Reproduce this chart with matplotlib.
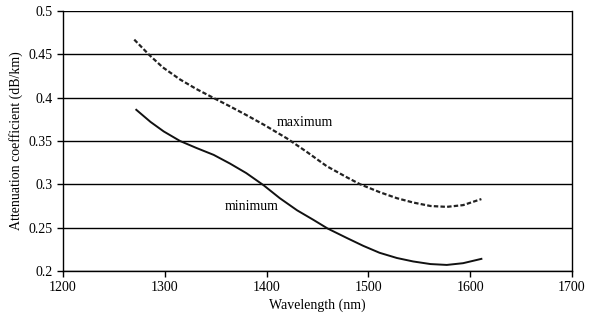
import matplotlib
matplotlib.use("Agg")
from matplotlib import pyplot as plt

# values
wl_max = [1270, 1285, 1298, 1315, 1331, 1349, 1364, 1380, 1397, 1420, 1440, 1459, 1479, 1492,
          1511, 1528, 1544, 1561, 1577, 1593, 1611]
att_max = [0.467, 0.449, 0.435, 0.421, 0.410, 0.399, 0.390, 0.380, 0.369, 0.353, 0.337, 0.321, 0.308, 0.300,
           0.291, 0.284, 0.279, 0.275, 0.274, 0.276, 0.283]

wl_min = [1272, 1286, 1299, 1315, 1331, 1348, 1364, 1380, 1397, 1413, 1430, 1446, 1460, 1479,
          1495, 1511, 1528, 1544, 1561, 1577, 1593, 1611]
att_min = [0.386, 0.372, 0.361, 0.350, 0.342, 0.334, 0.324, 0.313, 0.299, 0.284, 0.270, 0.259, 0.249, 0.238,
           0.229, 0.221, 0.215, 0.211, 0.208, 0.207, 0.209, 0.214]

x_ticks = [1200, 1300, 1400, 1500, 1600, 1700]
y_ticks = [0.2, 0.25, 0.3, 0.35, 0.4, 0.45, 0.5]
y_labels = ['0.2', '0.25', '0.3', '0.35', '0.4', '0.45', '0.5']

plt.rcParams['font.family'] = ['Liberation Serif', 'DejaVu Serif']
plt.rcParams['font.size'] = 10

fig = plt.figure(figsize=(5.96, 3.22), dpi=100)
ax = fig.add_axes([0.1057, 0.1584, 0.8540, 0.8074])

for y in y_ticks:
    ax.axhline(y, color='black', lw=1.0, zorder=1)

ax.plot(wl_max, att_max, color='#222222', lw=1.6, linestyle=(0, (2.0, 1.0)), zorder=3,
        solid_joinstyle='round', dash_joinstyle='round')
ax.plot(wl_min, att_min, color='#111111', lw=1.4, zorder=3, solid_joinstyle='round')

ax.text(1438, 0.371, 'maximum', ha='center', va='center', fontsize=10)
ax.text(1385, 0.274, 'minimum', ha='center', va='center', fontsize=10)

ax.set_xlim(1200, 1700)
ax.set_ylim(0.2, 0.5)
ax.set_xticks(x_ticks)
ax.set_yticks(y_ticks)
ax.set_yticklabels(y_labels)
ax.tick_params(direction='out', length=4, width=1, colors='black')

ax.spines['top'].set_visible(False)
for s in ['left', 'bottom', 'right']:
    ax.spines[s].set_linewidth(1.0)

ax.set_xlabel('Wavelength (nm)', labelpad=3)
ax.set_ylabel('Attenuation coefficient (dB/km)', labelpad=4)

fig.savefig('out.png', dpi=100)
